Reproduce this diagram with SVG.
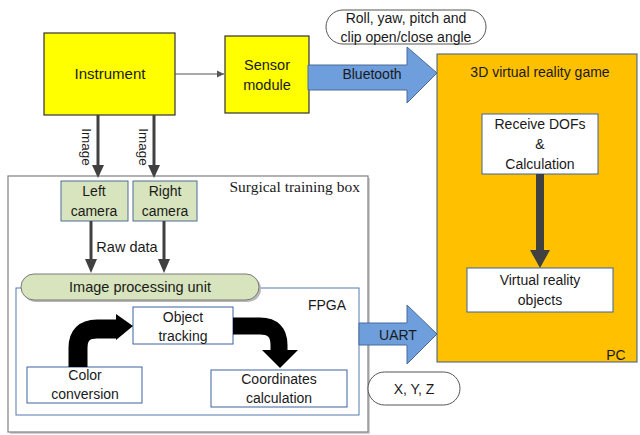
<svg xmlns="http://www.w3.org/2000/svg" width="640" height="435" viewBox="0 0 640 435">
<style>
text{font-family:"Liberation Sans",Arial,sans-serif;font-size:14px;fill:#1a1a1a;text-anchor:middle}
.serif{font-family:"Liberation Serif","Times New Roman",serif}
.yel{fill:#FFFF00;stroke:#333;stroke-width:1.2}
.wbox{fill:#fff;stroke:#3F62A0;stroke-width:1}
.grn{fill:#D7E4BD;stroke:#4F6E95;stroke-width:1}
.pill{fill:#fff;stroke:#555;stroke-width:1}
.blue{fill:#6E9EDB;stroke:#4A6A9A;stroke-width:1}
.dk{stroke:#404040;fill:none}
.blk{stroke:#000;fill:none}
</style>
<defs>
<marker id="sm" markerWidth="8" markerHeight="8" refX="7" refY="4" orient="auto" markerUnits="userSpaceOnUse">
<path d="M0,0.5 L7,4 L0,7.5 Z" fill="#555"/>
</marker>
</defs>
<rect width="640" height="435" fill="#fff"/>

<g id="surgical-box">
<rect x="10" y="178" width="360" height="256" fill="#d0d0d0"/>
<rect x="8" y="176" width="360" height="256" fill="#fff" stroke="#808080" stroke-width="1.2"/>
<text class="serif" x="360" y="192" style="text-anchor:end;font-size:15.5px">Surgical training box</text>
</g>

<g id="fpga">
<rect x="16" y="288" width="343" height="127" fill="#fff" stroke="#5478B0" stroke-width="1"/>
<text x="346" y="310" style="text-anchor:end">FPGA</text>
</g>

<g id="pc">
<rect x="437" y="54" width="200" height="308" fill="#FFC000" stroke="#3A5A8C" stroke-width="1"/>
<text x="540" y="77">3D virtual reality game</text>
<text x="616" y="360">PC</text>
</g>

<g id="instrument">
<rect class="yel" x="44" y="33" width="131" height="82"/>
<text x="110" y="79" style="font-size:15px">Instrument</text>
</g>

<g id="sensor">
<rect class="yel" x="225" y="36" width="84" height="77"/>
<text x="267" y="70" style="font-size:14.5px">Sensor</text>
<text x="267" y="90" style="font-size:14.5px">module</text>
</g>

<g id="dof-label">
<rect class="pill" x="326" y="10" width="160" height="34" rx="17"/>
<text x="406" y="23">Roll, yaw, pitch and</text>
<text x="406" y="42">clip open/close angle</text>
</g>

<g id="xyz-label">
<rect class="pill" x="368" y="372" width="92" height="33" rx="16.5"/>
<text x="414" y="394">X, Y, Z</text>
</g>

<g id="left-camera">
<rect class="grn" x="61" y="181" width="67" height="40"/>
<text x="94" y="196">Left</text>
<text x="94" y="216">camera</text>
</g>

<g id="right-camera">
<rect class="grn" x="133" y="181" width="64" height="40"/>
<text x="165" y="196">Right</text>
<text x="165" y="216">camera</text>
</g>

<g id="ipu">
<rect x="23" y="276" width="238" height="26" rx="13" fill="#b8b8b8"/>
<rect x="21" y="274" width="238" height="26" rx="13" fill="#D7E4BD" stroke="#7a7a7a" stroke-width="1"/>
<text x="140" y="292" style="font-size:14.5px">Image processing unit</text>
</g>

<g id="object-tracking">
<rect class="wbox" x="133" y="307" width="100" height="37"/>
<text x="183" y="322">Object</text>
<text x="183" y="341">tracking</text>
</g>

<g id="color-conversion">
<rect class="wbox" x="27" y="367" width="115" height="36"/>
<text x="85" y="380">Color</text>
<text x="85" y="399">conversion</text>
</g>

<g id="coordinates">
<rect class="wbox" x="211" y="370" width="136" height="37"/>
<text x="279" y="384">Coordinates</text>
<text x="279" y="403">calculation</text>
</g>

<g id="receive">
<rect class="wbox" x="482" y="114" width="116" height="60"/>
<text x="540" y="129">Receive DOFs</text>
<text x="540" y="149">&amp;</text>
<text x="540" y="169">Calculation</text>
</g>

<g id="vr-objects">
<rect class="wbox" x="467" y="268" width="146" height="44"/>
<text x="540" y="285">Virtual reality</text>
<text x="540" y="305">objects</text>
</g>

<g id="connectors">
<line x1="175" y1="74" x2="224" y2="74" stroke="#555" stroke-width="1" marker-end="url(#sm)"/>
<line class="dk" x1="98" y1="115" x2="98" y2="166" stroke-width="3"/>
<path d="M92,165 L104,165 L98,178 Z" fill="#404040"/>
<line class="dk" x1="154" y1="115" x2="154" y2="166" stroke-width="3"/>
<path d="M148,165 L160,165 L154,178 Z" fill="#404040"/>
<text transform="translate(82,147) rotate(90)" style="font-size:13.5px" x="0" y="0">Image</text>
<text transform="translate(139,147) rotate(90)" style="font-size:13.5px" x="0" y="0">Image</text>
<line class="dk" x1="91" y1="221" x2="91" y2="260" stroke-width="3"/>
<path d="M85,259 L97,259 L91,273 Z" fill="#404040"/>
<line class="dk" x1="164" y1="221" x2="164" y2="260" stroke-width="3"/>
<path d="M158,259 L170,259 L164,273 Z" fill="#404040"/>
<text x="127" y="252" style="font-size:14.5px">Raw data</text>
<path class="blue" d="M308,65 H407 V47 L437,73 L407,103 V90 H308 Z"/>
<text x="372" y="79">Bluetooth</text>
<path class="blue" d="M359,323 H407 V305 L437,334 L407,364 V345 H359 Z"/>
<text x="398" y="340">UART</text>
<path class="blk" d="M78,367 V348 Q78,329 97,329 H117" stroke-width="19"/>
<path d="M116,314 L133,326 L116,340 Z" fill="#000"/>
<path class="blk" d="M233,326 H260 Q279,326 279,345 V352" stroke-width="17"/>
<path d="M262,350 L298,350 L280,368 Z" fill="#000"/>
<line class="dk" x1="540" y1="174" x2="540" y2="252" stroke-width="8"/>
<path d="M530,250 L550,250 L540,268 Z" fill="#404040"/>
</g>
</svg>
